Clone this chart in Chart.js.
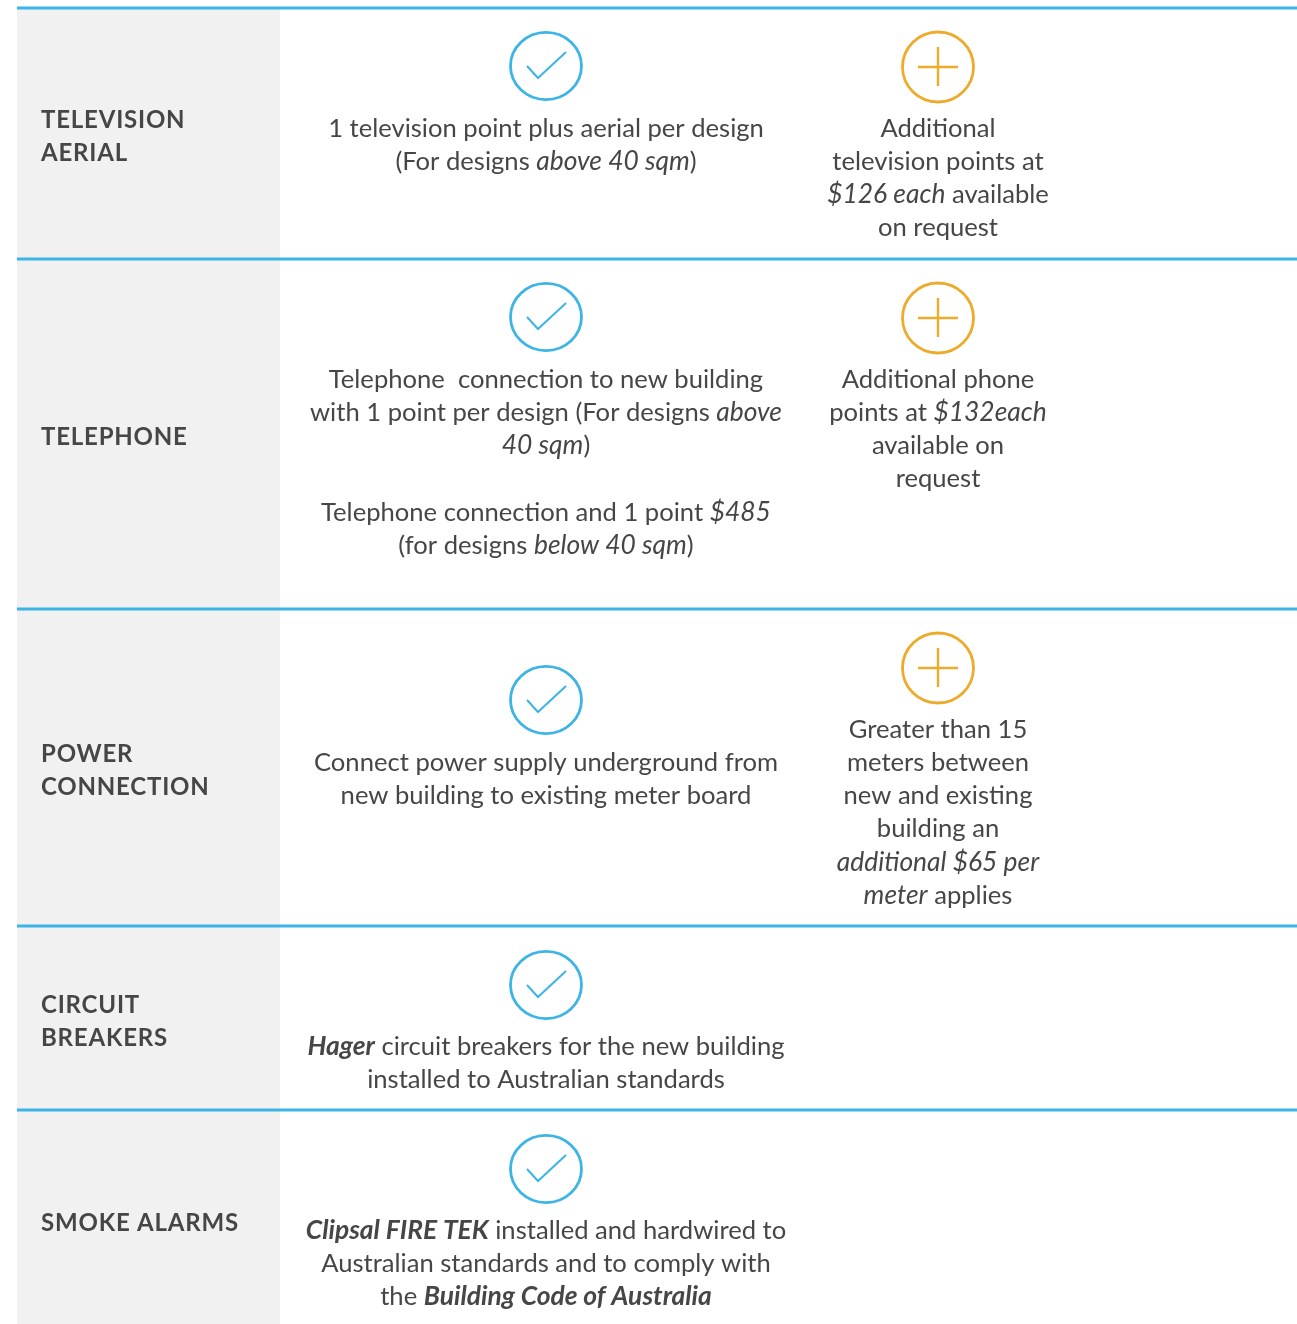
<!DOCTYPE html>
<html>
<head>
<meta charset="utf-8">
<title>Electrical inclusions</title>
<script src="https://cdn.jsdelivr.net/npm/chart.js@4"></script>
<style>
  html, body { margin: 0; padding: 0; background: #fff; }
  canvas { display: block; }
</style>
</head>
<body>
<canvas id="table" width="1297" height="1324"></canvas>
<script>
// Row titles, one entry per line
const rowTitles = [
    ['TELEVISION', 'AERIAL'],
    ['TELEPHONE'],
    ['POWER', 'CONNECTION'],
    ['CIRCUIT', 'BREAKERS'],
    ['SMOKE ALARMS']
];
// * = italic, ** = bold italic
const includedText = [
    ['1 television point plus aerial per design', '(For designs *above 40 sqm*)'],
    ['Telephone  connection to new building', 'with 1 point per design (For designs *above*', '*40 sqm*)', '', 'Telephone connection and 1 point *$485*', '(for designs *below 40 sqm*)'],
    ['Connect power supply underground from', 'new building to existing meter board'],
    ['**Hager** circuit breakers for the new building', 'installed to Australian standards'],
    ['**Clipsal FIRE TEK** installed and hardwired to', 'Australian standards and to comply with', 'the **Building Code of Australia**']
];
const optionalText = [
    ['Additional', 'television points at', '*$126 each* available', 'on request'],
    ['Additional phone', 'points at *$132each*', 'available on', 'request'],
    ['Greater than 15', 'meters between', 'new and existing', 'building an', '*additional $65 per*', '*meter* applies'],
    [],
    []
];

// In page pixels
const rowEdges = [8, 259, 609, 926, 1110];
const checkRows = [66, 317, 700, 985, 1169];
const plusRows = [67, 318, 668];
const titleFirstLine = [127.5, 444.5, 761.5, 1012.5, 1230.5];
const includedFirstLine = [136.7, 387.7, 770.7, 1054.7, 1238.7];
const optionalFirstLine = [136.7, 387.7, 737.7];

const BLUE = '#3db4e6';
const ORANGE = '#eeaa2a';
const TEXT = '#464646';
const LEFT = 17, TITLE_X = 41, SPLIT = 280, RIGHT = 1297, BOTTOM = 1324;
const INCLUDED_X = 546, OPTIONAL_X = 938;
const LINE_H = 33.2;

function iconCanvas(color, ry, markWidth, drawMark) {
    const c = document.createElement('canvas');
    c.width = 78;
    c.height = 78;
    const g = c.getContext('2d');
    g.strokeStyle = color;
    g.lineWidth = 2.8;
    g.beginPath();
    g.ellipse(39, 39, 35.5, ry, 0, 0, Math.PI * 2);
    g.stroke();
    g.lineWidth = markWidth;
    g.beginPath();
    drawMark(g);
    g.stroke();
    return c;
}

const checkIcon = iconCanvas(BLUE, 33.7, 2, function(g) {
    g.moveTo(20, 39);
    g.lineTo(31, 51);
    g.lineTo(59, 25);
});
const plusIcon = iconCanvas(ORANGE, 35, 2.4, function(g) {
    g.moveTo(39, 19);
    g.lineTo(39, 58);
    g.moveTo(19, 39);
    g.lineTo(59, 39);
});

// Split "a *b* **c**" into styled pieces
function pieces(line) {
    return line.split(/(\*\*[^*]+\*\*|\*[^*]+\*)/).filter(Boolean).map(function(s) {
        if (s.startsWith('**')) return { text: s.slice(2, -2), font: 'italic 700 26.4px Lato' };
        if (s.startsWith('*')) return { text: s.slice(1, -1), font: 'italic 400 26.4px Lato' };
        return { text: s, font: '400 25.6px Lato' };
    });
}

function centeredLine(ctx, line, x, y) {
    const parts = pieces(line);
    let width = 0;
    parts.forEach(function(p) {
        ctx.font = p.font;
        p.w = ctx.measureText(p.text).width;
        width += p.w;
    });
    let cx = x - width / 2;
    parts.forEach(function(p) {
        ctx.font = p.font;
        ctx.fillText(p.text, cx, y);
        cx += p.w;
    });
}

const tablePlugin = {
    id: 'tableCells',
    beforeDatasetsDraw(chart) {
        const x = chart.scales.x, y = chart.scales.y, ctx = chart.ctx;
        ctx.save();
        ctx.fillStyle = '#f1f1f1';
        ctx.fillRect(x.getPixelForValue(LEFT), y.getPixelForValue(rowEdges[0]),
            x.getPixelForValue(SPLIT) - x.getPixelForValue(LEFT),
            y.getPixelForValue(BOTTOM) - y.getPixelForValue(rowEdges[0]));
        ctx.restore();
    },
    afterDatasetsDraw(chart) {
        const x = chart.scales.x, y = chart.scales.y, ctx = chart.ctx;
        ctx.save();
        ctx.fillStyle = TEXT;
        ctx.textAlign = 'left';
        ctx.textBaseline = 'alphabetic';

        ctx.letterSpacing = '0.8px';
        ctx.font = '700 24px Lato';
        rowTitles.forEach(function(lines, r) {
            lines.forEach(function(line, i) {
                ctx.fillText(line, x.getPixelForValue(TITLE_X), y.getPixelForValue(titleFirstLine[r] + i * LINE_H));
            });
        });

        ctx.letterSpacing = '0px';
        includedText.forEach(function(lines, r) {
            lines.forEach(function(line, i) {
                centeredLine(ctx, line, x.getPixelForValue(INCLUDED_X), y.getPixelForValue(includedFirstLine[r] + i * LINE_H));
            });
        });
        optionalText.forEach(function(lines, r) {
            lines.forEach(function(line, i) {
                centeredLine(ctx, line, x.getPixelForValue(OPTIONAL_X), y.getPixelForValue(optionalFirstLine[r] + i * LINE_H));
            });
        });
        ctx.restore();
    }
};

const ruleSets = rowEdges.map(function(edge) {
    return {
        type: 'scatter',
        showLine: true,
        data: [{ x: LEFT, y: edge }, { x: RIGHT, y: edge }],
        borderColor: BLUE,
        borderWidth: 3,
        pointRadius: 0
    };
});

new Chart(document.getElementById('table'), {
    type: 'scatter',
    data: {
        datasets: ruleSets.concat([
            {
                label: 'Included',
                data: checkRows.map(function(v) { return { x: INCLUDED_X, y: v }; }),
                pointStyle: checkIcon
            },
            {
                label: 'Optional',
                data: plusRows.map(function(v) { return { x: OPTIONAL_X, y: v }; }),
                pointStyle: plusIcon
            }
        ])
    },
    options: {
        responsive: false,
        animation: false,
        layout: { padding: 0, autoPadding: false },
        plugins: { legend: { display: false }, tooltip: { enabled: false } },
        scales: {
            x: { type: 'linear', min: 0, max: 1297, display: false },
            y: { type: 'linear', min: 0, max: 1324, reverse: true, display: false }
        }
    },
    plugins: [tablePlugin]
});
</script>
</body>
</html>
